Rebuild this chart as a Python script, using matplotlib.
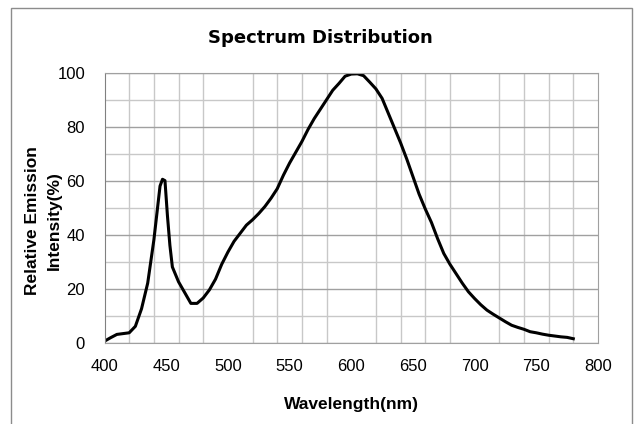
import numpy as np
import matplotlib
matplotlib.use("Agg")
import matplotlib.pyplot as plt
from matplotlib.patches import Rectangle

# Spectrum
wavelength = [400, 405, 410, 415, 420, 425, 430, 435, 440, 443, 445, 447, 449,
              451, 453, 455, 460, 465, 470, 475, 480, 485, 490, 495, 500, 505,
              510, 515, 520, 525, 530, 535, 540, 545, 550, 555, 560, 565, 570,
              575, 580, 585, 590, 595, 600, 605, 610, 615, 620, 625, 630, 635,
              640, 645, 650, 655, 660, 665, 670, 675, 680, 685, 690, 695, 700,
              705, 710, 715, 720, 725, 730, 735, 740, 745, 750, 755, 760, 765,
              770, 775, 780]
intensity = [0.5, 1.8, 3.0, 3.3, 3.6, 6.0, 12.5, 22, 38, 50, 58, 60.5, 60,
             47, 36, 28, 22.5, 18.5, 14.5, 14.5, 16.5, 19.5, 23.5, 29, 33.5, 37.5,
             40.5, 43.5, 45.5, 47.8, 50.4, 53.5, 57, 62, 66.5, 70.5, 74.5, 79, 83,
             86.5, 90, 93.5, 96, 98.7, 99.5, 99.6, 98.9, 96.5, 94, 90.5, 85, 79.5,
             74, 68, 61.5, 55, 49.5, 44.5, 38.5, 33, 29, 25.5, 22, 18.8, 16.3,
             14, 12, 10.5, 9.1, 7.7, 6.4, 5.6, 4.9, 4.0, 3.6, 3.1, 2.7, 2.4,
             2.1, 1.9, 1.4]

x_labels = [400, 450, 500, 550, 600, 650, 700, 750, 800]
y_labels = [0, 20, 40, 60, 80, 100]

plt.rcParams['font.family'] = ['Liberation Sans', 'DejaVu Sans']

fig = plt.figure(figsize=(6.35, 4.24), dpi=100)
ax = fig.add_axes([0.1646, 0.1922, 0.9417 - 0.1646, 0.8285 - 0.1922])

# outer frame around the whole chart
fig.patches.append(Rectangle((0.0173, -0.02), 0.978, 1.0018, transform=fig.transFigure,
                             fill=False, edgecolor="#8c8c8c", linewidth=1.0))

ax.plot(wavelength, intensity, color="black", linewidth=2.2)

ax.set_xlim(400, 800)
ax.set_ylim(0, 100)
ax.set_xticks(x_labels)
ax.set_yticks(y_labels)
ax.set_xticks(np.arange(400, 801, 20), minor=True)
ax.set_yticks(np.arange(0, 101, 10), minor=True)

# grid: vertical every 20 nm, horizontal every 10 (darker at 20s)
ax.grid(False, which="major", axis="x")
ax.grid(True, which="minor", axis="x", color="#c8c8c8", linewidth=1.0)
ax.grid(True, which="minor", axis="y", color="#c8c8c8", linewidth=1.0)
ax.grid(True, which="major", axis="y", color="#a0a0a0", linewidth=1.0)
ax.set_axisbelow(True)

ax.tick_params(axis="both", which="both", length=0, labelsize=12)
ax.tick_params(axis="x", pad=12)
ax.tick_params(axis="y", pad=14)

for side in ["top", "right", "bottom"]:
    ax.spines[side].set_color("#a0a0a0")
ax.spines["left"].set_color("#808080")

fig.text(0.505, 0.91, "Spectrum Distribution", ha="center", va="center",
         fontsize=13, fontweight="bold", family="DejaVu Sans")
fig.text(0.553, 0.047, "Wavelength(nm)", ha="center", va="center",
         fontsize=12.5, fontweight="bold")
fig.text(0.051, 0.479, "Relative Emission", ha="center", va="center",
         rotation=90, fontsize=12.5, fontweight="bold")
fig.text(0.085, 0.479, "Intensity(%)", ha="center", va="center",
         rotation=90, fontsize=12.5, fontweight="bold")

fig.savefig("out.png", dpi=100)
